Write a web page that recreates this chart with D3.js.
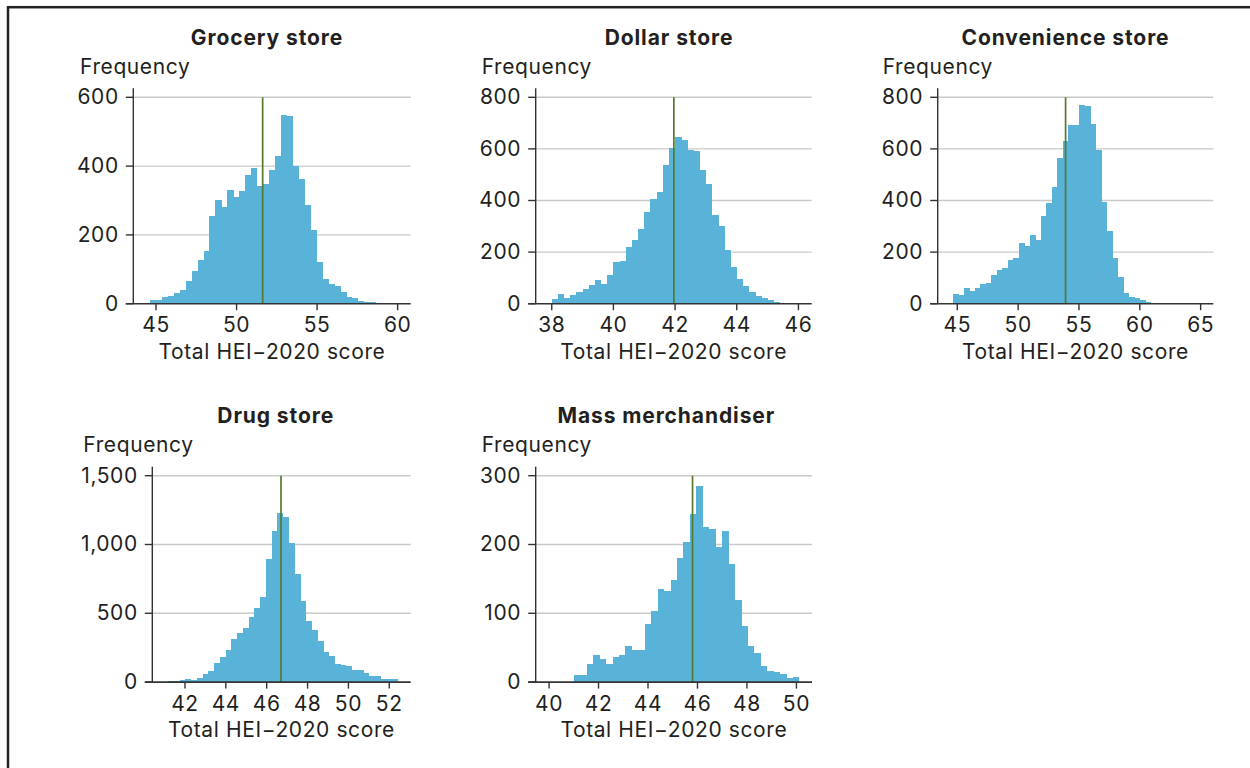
<!DOCTYPE html>
<html>
<head>
<meta charset="utf-8">
<script src="https://cdn.jsdelivr.net/npm/d3@7"></script>
<style>
  html, body { margin: 0; padding: 0; background: #ffffff; }
  svg { display: block; }
</style>
</head>
<body>
<svg id="chart" width="1250" height="768"></svg>
<script>
// ---------------- DATA ----------------
const panelTitles = ["Grocery store", "Dollar store", "Convenience store", "Drug store", "Mass merchandiser"];

const groceryCounts = [11, 11, 19, 22, 31, 40, 66, 96, 128, 154, 255, 301, 281, 330, 310, 327, 374, 394, 342, 348, 389, 429, 548, 545, 400, 362, 287, 214, 121, 72, 57, 51, 34, 19, 16, 8, 5, 5];
const dollarCounts = [17, 37, 22, 32, 45, 58, 72, 92, 76, 111, 161, 165, 220, 247, 289, 355, 406, 433, 537, 603, 646, 634, 596, 592, 518, 464, 344, 301, 208, 142, 97, 68, 45, 30, 22, 14, 6, 4, 2];
const convenienceCounts = [37, 34, 61, 49, 61, 76, 80, 111, 130, 138, 169, 177, 235, 224, 266, 247, 340, 390, 452, 565, 630, 691, 691, 769, 766, 696, 596, 394, 282, 177, 103, 41, 27, 22, 14, 8, 4, 3, 3];
const drugCounts = [5, 7, 15, 22, 15, 29, 58, 80, 138, 182, 233, 313, 356, 392, 472, 538, 618, 894, 1098, 1228, 1197, 1008, 783, 589, 443, 378, 296, 218, 187, 131, 124, 116, 87, 87, 65, 44, 44, 22, 22, 22];
const massCounts = [10, 10, 26, 40, 33, 27, 36, 39, 52, 47, 47, 84, 104, 135, 133, 149, 181, 204, 245, 285, 225, 222, 196, 219, 171, 120, 81, 52, 43, 23, 16, 15, 12, 6, 7];

const binStarts = [44.63, 38.0, 44.64, 41.18, 41.01];
const binWidths = [0.369, 0.2, 0.452, 0.281, 0.26];
const meanScores = [51.62, 41.96, 53.9, 46.70, 45.80];

const xDomains = [[43.59, 60.81], [37.48, 46.43], [43.39, 66.04], [40.40, 53.05], [39.46, 50.63]];
const xTickValues = [[45, 50, 55, 60], [38, 40, 42, 44, 46], [45, 50, 55, 60, 65], [42, 44, 46, 48, 50, 52], [40, 42, 44, 46, 48, 50]];
const yTickValues = [[0, 200, 400, 600], [0, 200, 400, 600, 800], [0, 200, 400, 600, 800], [0, 500, 1000, 1500], [0, 100, 200, 300]];

const yLabel = "Frequency";
const xLabel = "Total HEI\u22122020 score";

const allCounts = [groceryCounts, dollarCounts, convenienceCounts, drugCounts, massCounts];

// ---------------- LAYOUT ----------------
const layout = [
  { ax: 133.3, right: 410.7, top: 97.3,  titleX: 267,    freqX: 80 },
  { ax: 535.7, right: 811.7, top: 97.3,  titleX: 669,    freqX: 481.7 },
  { ax: 937.7, right: 1213.3, top: 97.3, titleX: 1065.5, freqX: 882.7 },
  { ax: 152.3, right: 410.7, top: 475.7, titleX: 275.7,  freqX: 83.3 },
  { ax: 535.7, right: 812,   top: 475.7, titleX: 666.3,  freqX: 481.7 }
];
const plotH = 206.4;

const FONT = "Inter, 'Noto Sans', 'DejaVu Sans', sans-serif";
const FS = 21;
const LS = "0.6px";
const TEXT = "#231f20";
const BAR = "#59b2d8";
const MEAN = "#557a2e";
const GRID = "#c9c9c9";
const AXIS = "#333333";

const svg = d3.select("#chart");

// Frame (cropped on right and bottom)
svg.append("rect")
  .attr("x", 8).attr("y", 7.2)
  .attr("width", 1300).attr("height", 900)
  .attr("fill", "none").attr("stroke", "#222").attr("stroke-width", 2.5);

const fmt = d3.format(",");

function txt(sel) {
  return sel.attr("font-family", FONT).attr("font-size", FS)
    .attr("letter-spacing", LS).attr("fill", TEXT);
}

panelTitles.forEach((title, i) => {
  const L = layout[i];
  const zeroY = L.top + plotH;
  const x = d3.scaleLinear().domain(xDomains[i]).range([L.ax, L.right]);
  const yt = yTickValues[i];
  const y = d3.scaleLinear().domain([0, yt[yt.length - 1]]).range([zeroY, L.top]);
  const g = svg.append("g");

  // gridlines
  g.selectAll("line.grid").data(yt.filter(v => v > 0)).enter().append("line")
    .attr("x1", L.ax).attr("x2", L.right)
    .attr("y1", d => y(d)).attr("y2", d => y(d))
    .attr("stroke", GRID).attr("stroke-width", 1.4);

  // bars
  const counts = allCounts[i];
  g.selectAll("rect.bar").data(counts).enter().append("rect")
    .attr("x", (d, k) => x(binStarts[i] + k * binWidths[i]))
    .attr("width", (d, k) => x(binStarts[i] + (k + 1) * binWidths[i]) - x(binStarts[i] + k * binWidths[i]) + 0.3)
    .attr("y", d => y(d))
    .attr("height", d => zeroY - y(d))
    .attr("fill", BAR)
    .attr("shape-rendering", "crispEdges");

  // mean line
  g.append("line")
    .attr("x1", x(meanScores[i])).attr("x2", x(meanScores[i]))
    .attr("y1", y(yt[yt.length - 1])).attr("y2", zeroY)
    .attr("stroke", MEAN).attr("stroke-width", 1.7);

  // y axis line
  g.append("line")
    .attr("x1", L.ax).attr("x2", L.ax)
    .attr("y1", L.top - 9).attr("y2", zeroY)
    .attr("stroke", AXIS).attr("stroke-width", 1.4);

  // y ticks
  g.selectAll("line.ytick").data(yt).enter().append("line")
    .attr("x1", L.ax - 7.5).attr("x2", L.ax)
    .attr("y1", d => y(d)).attr("y2", d => y(d))
    .attr("stroke", AXIS).attr("stroke-width", 1.4);

  txt(g.selectAll("text.ylab").data(yt).enter().append("text")
    .attr("x", L.ax - 14.5)
    .attr("y", d => y(d))
    .attr("dy", "0.33em")
    .attr("text-anchor", "end"))
    .text(d => fmt(d));

  // x axis line
  g.append("line")
    .attr("x1", L.ax - 7.5).attr("x2", L.right)
    .attr("y1", zeroY).attr("y2", zeroY)
    .attr("stroke", AXIS).attr("stroke-width", 1.6);

  const xt = xTickValues[i];
  g.selectAll("line.xtick").data(xt).enter().append("line")
    .attr("x1", d => x(d)).attr("x2", d => x(d))
    .attr("y1", zeroY).attr("y2", zeroY + 6.5)
    .attr("stroke", AXIS).attr("stroke-width", 1.4);

  txt(g.selectAll("text.xlab").data(xt).enter().append("text")
    .attr("x", d => x(d))
    .attr("y", zeroY + 28.5)
    .attr("text-anchor", "middle"))
    .text(d => d);

  // axis title
  txt(g.append("text")
    .attr("x", (L.ax + L.right) / 2)
    .attr("y", zeroY + 55)
    .attr("text-anchor", "middle"))
    .text(xLabel);

  // Frequency label
  txt(g.append("text")
    .attr("x", L.freqX)
    .attr("y", L.top - 23.3))
    .text(yLabel);

  // Panel title
  txt(g.append("text")
    .attr("x", L.titleX)
    .attr("y", L.top - 52.8)
    .attr("text-anchor", "middle"))
    .attr("font-weight", 700)
    .attr("letter-spacing", "0.9px")
    .text(title);
});
</script>
</body>
</html>
